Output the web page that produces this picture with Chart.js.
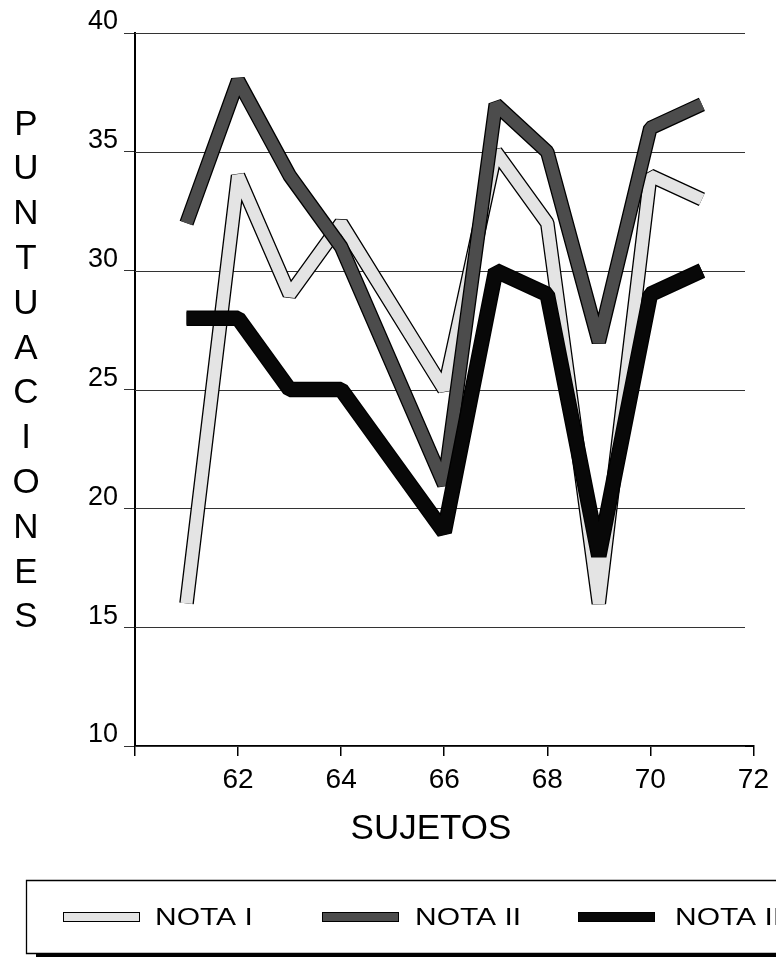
<!DOCTYPE html>
<html>
<head>
<meta charset="utf-8">
<script src="https://cdn.jsdelivr.net/npm/chart.js@4.4.1/dist/chart.umd.min.js"></script>
<style>
  html, body { margin: 0; padding: 0; background: #fff; }
  canvas { display: block; }
</style>
</head>
<body>
<canvas id="c" width="776" height="961"></canvas>
<script>
// Puntuaciones por sujeto en las tres notas
const sujetos  = [61, 62, 63, 64, 66, 67, 68, 69, 70, 71];
const notaI    = [16, 34, 29, 32, 25, 35, 32, 16, 34, 33];
const notaII   = [32, 38, 34, 31, 21, 37, 35, 27, 36, 37];
const notaIII  = [28, 28, 25, 25, 19, 30, 29, 18, 29, 30];
const seriesNames = ['NOTA I', 'NOTA II', 'NOTA III'];
const xTickLabels = ['62', '64', '66', '68', '70', '72'];
const yTickLabels = ['10', '15', '20', '25', '30', '35', '40'];
const yTitle = 'PUNTUACIONES';
const xTitle = 'SUJETOS';

const FONT = '"Liberation Sans", Arial, Helvetica, sans-serif';

// Each series is a wide band with a thin black outline
const bandStyles = [
  { fill: '#e4e4e4', width: 12 },
  { fill: '#4c4c4c', width: 12 },
  { fill: '#080808', width: 13 }
];
const seriesValues = [notaI, notaII, notaIII];

const toPoints = vals => sujetos.map((s, i) => ({ x: s, y: vals[i] }));

const datasets = [];
seriesValues.forEach((vals, k) => {
  const st = bandStyles[k];
  const base = {
    data: toPoints(vals),
    pointRadius: 0,
    pointHoverRadius: 0,
    fill: false,
    tension: 0,
    borderCapStyle: 'butt',
    borderJoinStyle: 'bevel'
  };
  // outline underneath, coloured band on top
  datasets.push(Object.assign({}, base, {
    label: seriesNames[k], borderColor: '#000', borderWidth: st.width + 2.6, order: 6 - 2 * k
  }));
  datasets.push(Object.assign({}, base, {
    label: seriesNames[k], borderColor: st.fill, borderWidth: st.width, order: 5 - 2 * k
  }));
});

// Horizontal rules stop a little short of the end of the x axis
const GRID_RIGHT = 745;
const rules = {
  id: 'rules',
  beforeDatasetsDraw(chart) {
    const { ctx, chartArea, scales } = chart;
    ctx.save();
    ctx.strokeStyle = '#333';
    ctx.lineWidth = 1;
    scales.y.ticks.forEach(t => {
      const y = Math.round(scales.y.getPixelForValue(t.value)) + 0.5;
      ctx.beginPath();
      ctx.moveTo(chartArea.left, y);
      ctx.lineTo(GRID_RIGHT, y);
      ctx.stroke();
    });
    ctx.restore();
  }
};

// Axis titles and the framed legend at the bottom
const decor = {
  id: 'decor',
  afterDraw(chart) {
    const ctx = chart.ctx;
    ctx.save();
    ctx.fillStyle = '#000';
    ctx.textAlign = 'center';
    ctx.textBaseline = 'middle';
    ctx.font = '35px ' + FONT;
    Array.from(yTitle).forEach((ch, i) => ctx.fillText(ch, 26, 125 + i * 44.8));
    ctx.fillText(xTitle, 431, 829);

    // legend frame
    ctx.strokeStyle = '#000';
    ctx.lineWidth = 1.3;
    ctx.beginPath();
    ctx.moveTo(790, 880.5);
    ctx.lineTo(26.5, 880.5);
    ctx.lineTo(26.5, 953.5);
    ctx.lineTo(790, 953.5);
    ctx.stroke();
    ctx.fillRect(36, 953, 760, 4);

    const swatchX = [63, 322, 578];
    const textX = [155, 415, 675];
    seriesNames.forEach((name, k) => {
      ctx.fillStyle = bandStyles[k].fill;
      ctx.fillRect(swatchX[k], 912, 77, 10);
      ctx.strokeStyle = '#000';
      ctx.lineWidth = 1;
      ctx.strokeRect(swatchX[k] + 0.5, 912.5, 76, 9);
      ctx.save();
      ctx.translate(textX[k], 918);
      ctx.scale(1.25, 1);
      ctx.fillStyle = '#000';
      ctx.textAlign = 'left';
      ctx.font = '24px ' + FONT;
      ctx.fillText(name, 0, 0);
      ctx.restore();
    });
    ctx.restore();
  }
};

new Chart(document.getElementById('c'), {
  type: 'line',
  data: { datasets },
  plugins: [rules, decor],
  options: {
    responsive: false,
    devicePixelRatio: 1,
    animation: false,
    events: [],
    layout: { padding: { top: 33, right: 19, bottom: 115, left: 0 } },
    plugins: {
      legend: { display: false },
      tooltip: { enabled: false },
      title: { display: false }
    },
    scales: {
      x: {
        type: 'linear',
        min: 60,
        max: 72,
        afterBuildTicks: scale => {
          scale.ticks = [60].concat(xTickLabels.map(Number)).map(v => ({ value: v }));
        },
        afterFit: scale => { scale.height = 100; },
        border: { display: true, color: '#000', width: 2 },
        grid: {
          drawOnChartArea: false,
          drawTicks: true,
          tickLength: 10,
          color: '#000',
          lineWidth: 1.5
        },
        ticks: {
          autoSkip: false,
          maxRotation: 0,
          padding: 7,
          color: '#000',
          font: { family: FONT, size: 28 },
          callback: v => (xTickLabels.includes(String(v)) ? String(v) : '')
        }
      },
      y: {
        type: 'linear',
        min: 10,
        max: 40,
        afterFit: scale => { scale.width = 135; },
        border: { display: true, color: '#000', width: 2 },
        grid: {
          drawOnChartArea: false,
          drawTicks: true,
          tickLength: 11,
          color: '#333',
          lineWidth: 1
        },
        ticks: {
          stepSize: 5,
          padding: 6,
          labelOffset: -11,
          color: '#000',
          font: { family: FONT, size: 27 },
          callback: (v, i) => yTickLabels[i]
        }
      }
    }
  }
});
</script>
</body>
</html>
